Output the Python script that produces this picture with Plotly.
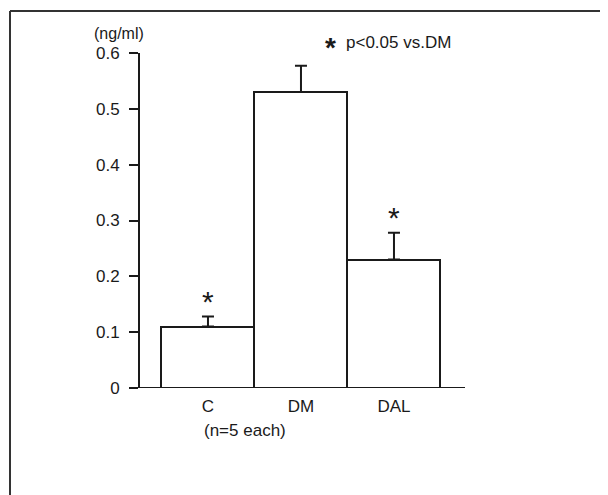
import plotly.graph_objects as go

categories = ["C", "DM", "DAL"]
means = [0.11, 0.53, 0.23]
sems = [0.018, 0.047, 0.048]
significant = [True, False, True]
y_ticks = [0, 0.1, 0.2, 0.3, 0.4, 0.5, 0.6]
y_tick_labels = ["0", "0.1", "0.2", "0.3", "0.4", "0.5", "0.6"]

W, H = 608, 495
OFF = 8  # page body margin offset
L, R, T, B = 140 - OFF, 465 - OFF, 53 - OFF, 388 - OFF  # plot area pixels

def px(x):
    return (x - OFF - L) / (R - L)

def py(y):
    return (B - (y - OFF)) / (B - T)

FONT = "Liberation Sans, Arial, sans-serif"
INK = "#1a1a1a"
FS = 17

xpos = list(range(len(categories)))

fig = go.Figure()
fig.add_trace(go.Bar(
    x=xpos, y=means, width=1.0,
    marker=dict(color="white", line=dict(color=INK, width=2)),
    error_y=dict(type="data", array=sems, arrayminus=[0]*len(sems),
                 symmetric=False, color=INK, thickness=2, width=6),
    cliponaxis=False, showlegend=False,
))

for i, (m, s, sig) in enumerate(zip(means, sems, significant)):
    if sig:
        fig.add_annotation(x=i, y=m + s, text="*", showarrow=False,
                           yanchor="bottom", yshift=-3,
                           font=dict(family=FONT, size=30, color=INK))

fig.add_annotation(xref="paper", yref="paper", x=px(119), y=py(33),
                   text="(ng/ml)", showarrow=False, xanchor="center", yanchor="middle",
                   font=dict(family=FONT, size=16, color=INK))
fig.add_annotation(xref="paper", yref="paper", x=px(323), y=py(48),
                   text="<b>*</b>", showarrow=False, xanchor="left", yanchor="middle",
                   font=dict(family=FONT, size=28, color=INK))
fig.add_annotation(xref="paper", yref="paper", x=px(344), y=py(43),
                   text="p<0.05 vs.DM", showarrow=False, xanchor="left", yanchor="middle",
                   font=dict(family=FONT, size=FS, color=INK))
fig.add_annotation(xref="paper", yref="paper", x=px(202), y=py(431),
                   text="(n=5 each)", showarrow=False, xanchor="left", yanchor="middle",
                   font=dict(family=FONT, size=FS, color=INK))

# baseline extending left of the y axis
fig.add_shape(type="line", xref="paper", yref="y", x0=px(130), x1=1, y0=0, y1=0,
              line=dict(color=INK, width=2))
# image frame (top and left edges)
fig.add_shape(type="line", xref="paper", yref="paper", x0=px(10), x1=px(W + 20),
              y0=py(11), y1=py(11), line=dict(color="#333333", width=2))
fig.add_shape(type="line", xref="paper", yref="paper", x0=px(10), x1=px(10),
              y0=py(11), y1=py(H + 20), line=dict(color="#333333", width=2))

fig.update_layout(
    width=W, height=H,
    margin=dict(l=L, r=W - R, t=T, b=H - B, pad=0),
    paper_bgcolor="white", plot_bgcolor="white",
    font=dict(family=FONT, size=FS, color=INK),
    bargap=0,
)
fig.update_xaxes(
    range=[-0.731, -0.731 + (R - L) / 93.0],
    tickvals=xpos, ticktext=categories,
    showline=False, showgrid=False, zeroline=False, ticks="",
    ticklabelstandoff=6,
    tickfont=dict(family=FONT, size=FS, color=INK),
)
fig.update_yaxes(
    range=[0, 0.6], tickvals=y_ticks, ticktext=y_tick_labels,
    showline=True, linecolor=INK, linewidth=2,
    ticks="outside", ticklen=9, tickwidth=2, tickcolor=INK,
    ticklabelstandoff=6,
    showgrid=False, zeroline=False,
    tickfont=dict(family=FONT, size=FS, color=INK),
)

fig.write_html("out.html")
